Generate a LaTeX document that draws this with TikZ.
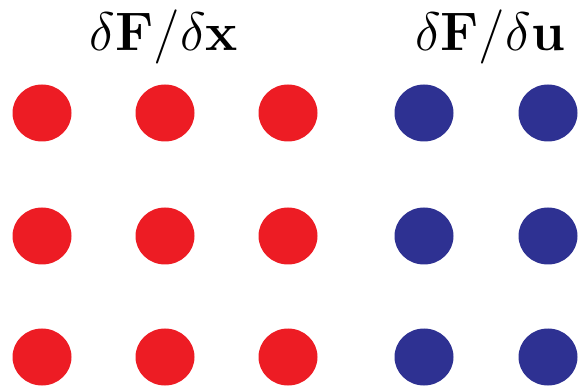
\documentclass[tikz,border=0pt]{standalone}
\usepackage{amsmath,amssymb}
\usepackage{tikz}
\usetikzlibrary{shapes.geometric}
\definecolor{dotred}{RGB}{237,28,36}
\definecolor{dotblue}{RGB}{46,49,146}
\newcommand{\vc}[1]{\mathbf{#1}}
\tikzset{
  statedot/.style = {ellipse, fill=#1, inner sep=0pt, minimum width=59pt, minimum height=57pt},
  headlabel/.style = {font=\Huge, scale=2.18, inner sep=0pt}
}
\begin{document}
\begin{tikzpicture}[x=1pt,y=-1pt]
  \useasboundingbox (0,0) rectangle (581,387);
  % --- left: derivative w.r.t. x
  \node[headlabel] (hx) at (164,37) {$\delta\vc{F}/\delta\vc{x}$};
  \foreach \c/\x in {1/42,2/165,3/288}
    \foreach \r/\y in {1/113,2/236,3/357}
      \node[statedot=dotred] (x\r\c) at (\x,\y) {};
  % --- right: derivative w.r.t. u
  \node[headlabel] (hu) at (490,37) {$\delta\vc{F}/\delta\vc{u}$};
  \foreach \c/\x in {1/424,2/548}
    \foreach \r/\y in {1/113,2/236,3/357}
      \node[statedot=dotblue] (u\r\c) at (\x,\y) {};
\end{tikzpicture}
\end{document}
